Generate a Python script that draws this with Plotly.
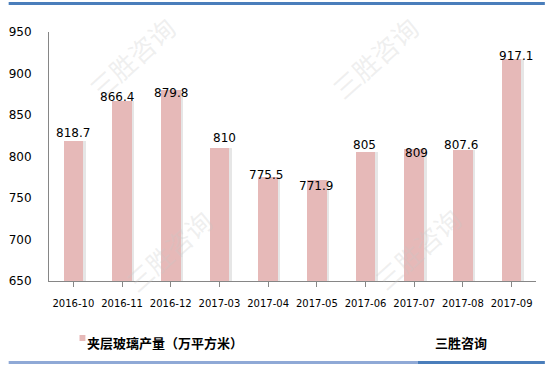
import plotly.graph_objects as go

categories = ["2016-10", "2016-11", "2016-12", "2017-03", "2017-04",
              "2017-05", "2017-06", "2017-07", "2017-08", "2017-09"]
values = [818.7, 866.4, 879.8, 810, 775.5, 771.9, 805, 809, 807.6, 917.1]
value_labels = ["818.7", "866.4", "879.8", "810", "775.5",
                "771.9", "805", "809", "807.6", "917.1"]
series_name = "夹层玻璃产量（万平方米）"
source_text = "三胜咨询"
y_ticks = [650, 700, 750, 800, 850, 900, 950]

# label placement tweaks (pixels) to mimic the reference
label_yshift = [8, 4, -3, 10, 2, -6, 7, -4, 5, 3]
label_xshift = [0, -5, 0, 5, -2, -1, -1, 2, -2, 4]

W, H = 545, 366
ML, MR, MT, MB = 41, 9, 32, 85
pw, ph = W - ML - MR, H - MT - MB

def px_x(p):
    return (p - ML) / pw

def px_y(p):
    return (H - MB - p) / ph

BAR_W = 0.404
SHADOW_OFF = 0.05

fig = go.Figure()
fig.add_trace(go.Bar(
    x=list(range(len(categories))), y=values,
    width=BAR_W, offset=-BAR_W / 2 + SHADOW_OFF,
    marker=dict(color="#E6E6E6", line=dict(width=0)),
    showlegend=False, hoverinfo="skip",
))
fig.add_trace(go.Bar(
    x=list(range(len(categories))), y=values,
    width=BAR_W, offset=-BAR_W / 2,
    marker=dict(color="#E6B9B8", line=dict(width=0)),
    name=series_name, showlegend=False,
))

ann = []
# watermarks (drawn first, faint)
wm = [(125, 58), (372, 58), (162, 250), (415, 248)]
for (cx, cy) in wm:
    ann.append(dict(x=px_x(cx), y=px_y(cy), xref="paper", yref="paper",
                    xanchor="center", yanchor="middle",
                    text="三胜咨询", showarrow=False, textangle=-42,
                    font=dict(family="Noto Sans CJK SC", size=26,
                              color="rgba(200,200,200,0.28)")))

for i, (v, t) in enumerate(zip(values, value_labels)):
    ann.append(dict(x=i, y=v, xref="x", yref="y", text=t, showarrow=False,
                    xanchor="center", yanchor="middle",
                    yshift=label_yshift[i], xshift=label_xshift[i],
                    font=dict(family="DejaVu Sans", size=12, color="#000000")))

# legend text and source
ann.append(dict(x=px_x(78), y=px_y(342), xref="paper", yref="paper",
                text="<b>" + series_name + "</b>", showarrow=False,
                xanchor="left", yanchor="middle",
                font=dict(family="Noto Sans CJK SC", size=13, color="#000000")))
ann.append(dict(x=px_x(431), y=px_y(342), xref="paper", yref="paper",
                text="<b>" + source_text + "</b>", showarrow=False,
                xanchor="left", yanchor="middle",
                font=dict(family="Noto Sans CJK SC", size=13, color="#000000")))

shapes = [
    dict(type="rect", xref="paper", yref="paper",
         x0=px_x(72), x1=px_x(78), y0=px_y(341), y1=px_y(335),
         fillcolor="#E6B9B8", line=dict(width=0)),
    dict(type="line", xref="paper", yref="paper",
         x0=px_x(0), x1=px_x(545), y0=px_y(3.5), y1=px_y(3.5),
         line=dict(color="#4A7EBB", width=3)),
    dict(type="line", xref="paper", yref="paper",
         x0=px_x(0), x1=px_x(416), y0=px_y(362.5), y1=px_y(362.5),
         line=dict(color="#8FA9D6", width=3)),
    dict(type="line", xref="paper", yref="paper",
         x0=px_x(416), x1=px_x(545), y0=px_y(362.5), y1=px_y(362.5),
         line=dict(color="#4A7EBB", width=3)),
]

fig.update_layout(
    width=W, height=H,
    margin=dict(l=ML, r=MR, t=MT, b=MB, pad=0),
    paper_bgcolor="white", plot_bgcolor="white",
    barmode="overlay", bargap=0,
    showlegend=False,
    annotations=ann, shapes=shapes,
    xaxis=dict(
        tickmode="array", tickvals=list(range(len(categories))), ticktext=categories,
        range=[-0.5, len(categories) - 0.5],
        showline=True, linecolor="#868686", linewidth=1,
        ticks="outside", tickson="boundaries", ticklen=5, tickcolor="#868686",
        showgrid=False, zeroline=False,
        tickfont=dict(family="DejaVu Sans", size=12, color="#000000") if False else dict(family="DejaVu Sans", size=10, color="#000000"),
        ticklabelstandoff=8,
    ),
    yaxis=dict(
        range=[650, 950], tickmode="array", tickvals=y_ticks,
        showline=True, linecolor="#868686", linewidth=1,
        ticks="outside", ticklen=14, tickcolor="rgba(0,0,0,0)",
        showgrid=False, zeroline=False,
        tickfont=dict(family="DejaVu Sans", size=12, color="#000000"),
    ),
)

fig.write_html("out.html")
